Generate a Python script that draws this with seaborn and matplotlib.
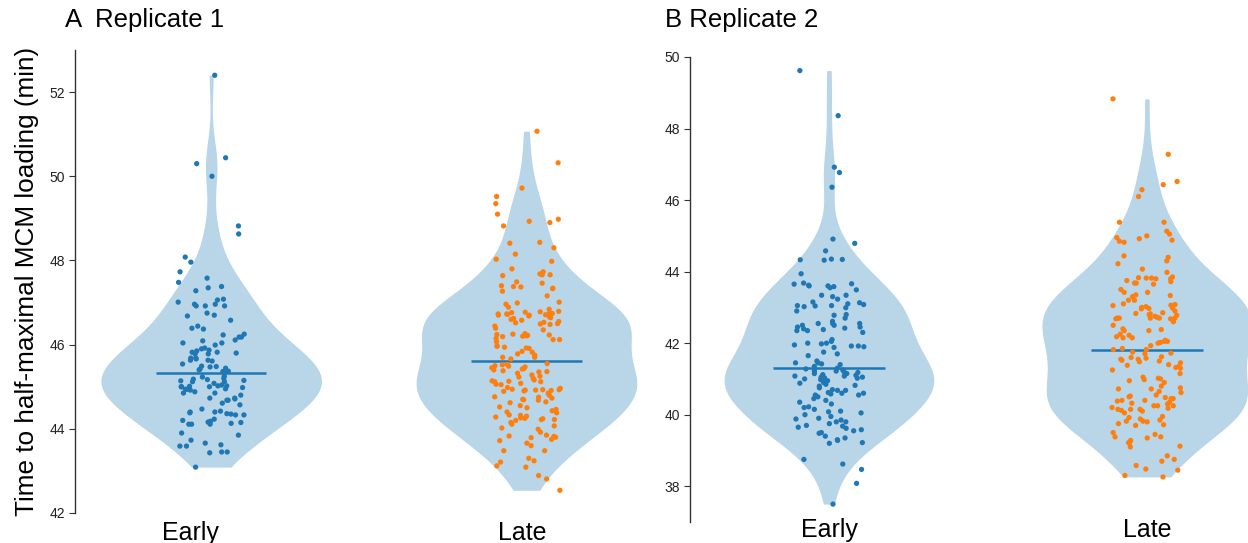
import numpy as np
import pandas as pd
import matplotlib
matplotlib.use("Agg")
import matplotlib.pyplot as plt
import seaborn as sns

np.random.seed(3)

categories = ["Early", "Late"]
titles = ["A  Replicate 1", "B Replicate 2"]
ylabel = "Time to half-maximal MCM loading (min)"

rep1_early = [
    52.40, 50.44, 50.30, 50.00, 48.82, 48.63, 48.08, 47.96, 47.73, 47.58, 47.48, 47.35, 47.38, 47.28, 47.08, 47.06,
    47.01, 46.96, 46.96, 46.92, 46.92, 46.92, 46.75, 46.68, 46.70, 46.58, 46.44, 46.39, 46.37, 46.18, 46.25, 46.23,
    46.18, 46.11, 46.09, 46.04, 46.04, 45.99,
    45.90, 45.82, 45.92, 45.87, 45.78, 45.85, 45.78, 45.80, 45.82, 45.66, 45.68, 45.63, 45.68, 45.63, 45.61, 45.54,
    45.47, 45.49, 45.44, 45.37, 45.33, 45.25, 45.23, 45.36, 45.42, 45.48, 45.40,
    45.17, 45.14, 45.18, 45.15, 45.12, 45.12, 45.04, 45.02, 45.00, 45.02, 45.00, 45.00, 44.92, 44.94, 44.85, 44.94,
    44.85, 45.01, 44.98, 45.20, 45.08, 44.95, 44.88, 44.80,
    44.73, 44.68, 44.73, 44.71, 44.68, 44.61, 44.57, 44.42, 44.47, 44.40, 44.40, 44.38, 44.36, 44.35, 44.33, 44.33,
    44.23, 44.20, 44.18, 44.15, 44.13, 44.11, 44.16, 44.11, 44.11, 43.90, 43.85, 43.62, 43.59, 43.66, 43.59, 43.73,
    43.45, 43.45, 43.43, 43.09,
]

rep1_late = [
    51.07, 50.32, 49.72, 49.52, 49.35, 49.10, 48.98, 48.93, 48.90, 48.82, 48.41, 48.43, 48.30, 48.15, 48.03, 47.98,
    47.80, 47.73, 47.64, 47.68, 47.66, 47.66, 47.49, 47.46, 47.40, 47.38, 47.37, 47.33, 47.27, 47.34, 47.16, 47.01,
    46.99, 46.96, 46.89, 46.84, 46.79,
    46.78, 46.77, 46.76, 46.75, 46.74, 46.73, 46.73, 46.66, 46.64, 46.62, 46.60, 46.58,
    46.70, 46.70, 46.69, 46.68, 46.71, 46.72,
    46.55, 46.53, 46.52, 46.50, 46.49, 46.48, 46.44, 46.39, 46.35,
    46.25, 46.22, 46.19, 46.12, 46.21, 46.23, 46.24, 46.26, 46.15, 46.12, 46.20, 46.07,
    45.97, 45.91, 45.96, 45.94, 45.84, 45.92, 45.82, 45.75, 45.78, 45.70, 45.70, 45.66,
    45.55, 45.52, 45.53, 45.49, 45.47, 45.45, 45.40, 45.43, 45.38, 45.35, 45.36, 45.28, 45.25, 45.23,
    45.50, 45.42, 45.32, 45.20, 45.05, 44.98, 44.85, 44.62, 44.55, 44.38, 44.15, 44.02, 43.92, 43.60,
    45.16, 45.12, 45.08, 45.14, 45.13, 45.12, 45.06,
    44.94, 44.96, 44.93, 44.92, 44.93, 44.92, 44.90, 44.91, 44.89,
    44.80, 44.76, 44.73, 44.75, 44.70, 44.68, 44.69, 44.64,
    44.52, 44.50, 44.43, 44.46, 44.40, 44.33, 44.22, 44.20, 44.28, 44.22, 44.32, 44.24, 44.25, 44.30, 44.26,
    44.11, 44.07, 43.99, 43.85, 43.82, 43.83, 43.80, 43.75, 43.66, 43.79, 43.72, 43.48, 43.48, 43.30, 43.21, 43.12,
    43.24, 43.09, 42.89, 42.81, 42.54,
]

rep2_early = [
    49.62, 48.36, 46.92, 46.77, 46.36, 44.91, 44.79, 44.58, 44.35, 44.34, 44.33, 44.32, 43.94,
    43.68, 43.65, 43.62, 43.60, 43.55, 43.58, 43.66, 43.60, 43.49, 43.34, 43.34, 43.30, 43.23, 43.15, 43.13, 43.10,
    43.02, 43.05,
    43.08, 43.05, 43.04, 42.99, 42.90, 42.80, 42.78, 42.70, 42.61,
    42.55, 42.55, 42.50, 42.45, 42.55, 42.38, 42.30, 42.45, 42.40, 42.35, 42.50, 42.35, 42.42,
    42.10, 42.05, 42.00, 41.95, 41.98, 41.90, 41.92, 41.88, 42.00, 41.92, 41.75, 41.70, 41.65,
    41.50, 41.45, 41.42, 41.45, 41.40, 41.28, 41.22, 41.30, 41.25, 41.35, 41.22, 41.15, 41.05, 41.00, 41.02, 41.08,
    41.10, 41.15, 40.98, 41.05, 41.03, 41.20, 41.12,
    41.18, 41.08, 40.95, 40.88, 40.75, 40.62, 40.45, 40.30, 40.22, 40.08, 39.95, 39.85, 39.62, 39.35,
    40.90, 40.85, 40.82, 40.80, 40.68, 40.60, 40.55, 40.70, 40.55, 40.68, 40.60, 40.58, 40.50, 40.40, 40.35,
    40.15, 40.20, 40.10, 40.05, 40.00, 39.88, 39.80, 39.90, 39.75, 39.65, 39.70, 39.68, 39.80, 39.55, 39.58, 39.48,
    39.30, 39.40, 39.20, 39.50, 39.22, 39.28, 38.75, 38.62, 38.47, 38.08, 37.50,
]

rep2_late = [
    48.83, 47.28, 46.52, 46.43, 46.29, 46.10, 45.38, 45.38, 45.13,
    45.00, 44.95, 45.05, 44.92, 44.85, 44.82, 44.88, 44.44, 44.30, 44.40, 44.22,
    44.07, 43.98, 43.82, 43.85, 43.83, 43.80, 43.75, 43.72, 43.80, 43.82, 43.68, 43.68, 43.65,
    43.50, 43.42, 43.30, 43.35, 43.20, 43.33, 43.42, 43.20, 43.10, 43.05, 43.00, 43.06, 43.08, 43.02, 42.96, 42.98,
    42.97,
    42.70, 42.72, 42.70, 42.68, 42.70,
    42.80, 42.78, 42.82, 42.83, 42.85, 42.90, 42.75, 42.68, 42.60, 42.50, 42.70, 42.70,
    42.40, 42.35, 42.38, 42.35, 42.22, 42.18, 42.15, 42.25, 42.15,
    42.05, 42.02, 42.08, 42.00, 42.05,
    41.85, 41.93, 41.82, 41.82, 41.72, 41.70,
    41.75, 41.60, 41.48, 41.32, 41.15, 40.90, 40.62, 40.48, 40.32, 40.10, 39.95,
    41.62, 41.50, 41.58, 41.52, 41.35, 41.38, 41.30, 41.55, 41.45, 41.55, 41.40, 41.25,
    41.05, 40.95, 41.00, 41.02, 40.98, 40.80, 40.75, 40.72, 40.72, 40.65, 40.55, 40.52,
    40.45, 40.50, 40.45, 40.40, 40.40, 40.35, 40.38, 40.30, 40.25, 40.25, 40.18, 40.15, 40.12, 40.15, 40.20, 40.25,
    40.15, 40.05,
    39.92, 39.88, 39.85, 39.82, 39.80, 39.75, 39.70, 39.82, 39.72,
    39.50, 39.45, 39.38, 39.35, 39.38, 39.20, 39.22, 39.28, 39.10, 39.12,
    38.85, 38.75, 38.70, 38.58, 38.45, 38.48, 38.30, 38.26,
]

rep1_yticks = [42, 44, 46, 48, 50, 52]
rep2_yticks = [38, 40, 42, 44, 46, 48, 50]

sns.set_theme(style="white")
plt.rcParams["font.family"] = ["Liberation Sans", "DejaVu Sans"]
plt.rcParams["text.color"] = "black"

fig = plt.figure(figsize=(12.48, 5.43), dpi=100)
ax1 = fig.add_axes([75 / 1248, 30 / 543, 587 / 1248, 463 / 543])
ax2 = fig.add_axes([690 / 1248, 21 / 543, 558 / 1248, 465 / 543])

point_colors = {"Early": "#1f77b4", "Late": "#ff7f0e"}
violin_color = "#b9d5e8"

panels = [
    (ax1, rep1_early, rep1_late, (-0.432, 1.43), (42.0, 53.0), rep1_yticks, 0.70, 6, [-0.066, -0.012]),
    (ax2, rep2_early, rep2_late, (-0.437, 1.318), (37.0, 50.0), rep2_yticks, 0.66, -3, [0.0, 0.0]),
]

for ax, early, late, xlim, ylim, yticks, vw, xpad, lab_shift in panels:
    df = pd.DataFrame({
        "stage": ["Early"] * len(early) + ["Late"] * len(late),
        "time": list(early) + list(late),
    })
    sns.violinplot(data=df, x="stage", y="time", order=categories, color=violin_color,
                   saturation=1, inner=None, cut=0, density_norm="width", width=vw,
                   linewidth=0, ax=ax)
    for i, cat in enumerate(categories):
        m = df.loc[df["stage"] == cat, "time"].median()
        ax.hlines(m, i - 0.175, i + 0.175, color="#1f77b4", lw=1.8, zorder=4)
    sns.stripplot(data=df, x="stage", y="time", order=categories, hue="stage",
                  palette=point_colors, jitter=0.11, size=3.8, linewidth=0,
                  legend=False, ax=ax, zorder=5)
    ax.set_xlim(*xlim)
    ax.set_ylim(*ylim)
    ax.set_yticks(yticks)
    ax.set_xticks([i + s for i, s in enumerate(lab_shift)], categories)
    ax.set_xlabel("")
    ax.set_ylabel("")
    for s in ["top", "right", "bottom"]:
        ax.spines[s].set_visible(False)
    ax.spines["left"].set_color("#333333")
    ax.spines["left"].set_linewidth(1.0)
    ax.tick_params(axis="y", which="both", left=True, length=4, width=0.8,
                   color="#333333", labelsize=10, labelcolor="#222222", pad=3)
    ax.tick_params(axis="x", length=0, labelsize=18, pad=xpad, labelcolor="black")

ax1.set_ylabel(ylabel, fontsize=18.8, color="black")
ax1.yaxis.set_label_coords(-0.062, 0.5)

fig.text(65 / 1248, 1 - 20 / 543, titles[0], fontsize=18.5, va="center", ha="left", color="black")
fig.text(665 / 1248, 1 - 20 / 543, titles[1], fontsize=18.5, va="center", ha="left", color="black")

fig.savefig("out.png", dpi=100)
